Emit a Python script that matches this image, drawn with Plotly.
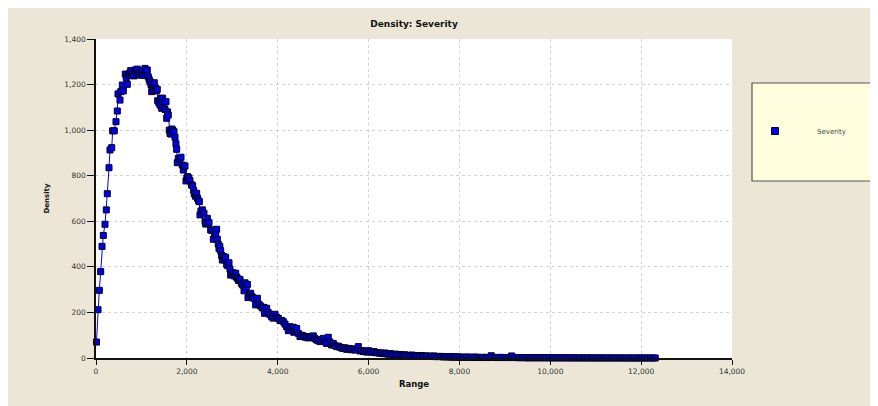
import plotly.graph_objects as go

# ── Data ──────────────────────────────────────────────────────────────────────

range_x = [
    10, 44, 73, 103, 132, 161, 198, 227, 249, 286,
    308, 346, 367, 403, 440, 469, 484, 528, 545, 579,
    601, 645, 667, 689, 711, 740, 764, 786, 808, 835,
    858, 885, 909, 931, 960, 990, 1010, 1028, 1055, 1079,
    1105, 1129, 1151, 1170, 1189, 1210, 1226, 1248, 1265, 1283,
    1310, 1330, 1349, 1358, 1385, 1409, 1430, 1446, 1468, 1495,
    1519, 1541, 1556, 1575, 1591, 1613, 1630, 1651, 1670, 1688,
    1717, 1739, 1760, 1776, 1789, 1812, 1840, 1871, 1900, 1922,
    1940, 1959, 1981, 2000, 2018, 2045, 2069, 2100, 2128, 2150,
    2164, 2190, 2216, 2234, 2260, 2274, 2289, 2310, 2340, 2377,
    2400, 2414, 2451, 2470, 2488, 2524, 2550, 2583, 2612, 2635,
    2656, 2671, 2690, 2707, 2725, 2744, 2765, 2781, 2810, 2830,
    2854, 2876, 2900, 2928, 2950, 2964, 2990, 3016, 3045, 3075,
    3095, 3112, 3140, 3170, 3199, 3230, 3258, 3281, 3305, 3332,
    3345, 3375, 3405, 3425, 3442, 3475, 3515, 3552, 3590, 3625,
    3660, 3699, 3710, 3757, 3790, 3830, 3867, 3900, 3940, 3977,
    4013, 4050, 4085, 4123, 4160, 4197, 4233, 4270, 4305, 4343,
    4355, 4390, 4417, 4453, 4490, 4525, 4563, 4600, 4637, 4675,
    4710, 4745, 4783, 4820, 4857, 4895, 4930, 4965, 5003, 5040,
    5077, 5113, 5150, 5187, 5223, 5260, 5297, 5335, 5370, 5405,
    5443, 5480, 5517, 5555, 5590, 5625, 5664, 5700, 5740, 5774,
    5810, 5845, 5884, 5920, 5960, 6000, 6040, 6080, 6120, 6160,
    6200, 6240, 6280, 6320, 6360, 6400, 6440, 6480, 6520, 6560,
    6600, 6640, 6680, 6720, 6760, 6800, 6840, 6880, 6920, 6960,
    7000, 7040, 7080, 7120, 7160, 7200, 7240, 7280, 7320, 7360,
    7400, 7440, 7480, 7520, 7560, 7600, 7640, 7680, 7720, 7760,
    7800, 7840, 7880, 7920, 7960, 8000, 8050, 8100, 8150, 8200,
    8250, 8300, 8350, 8400, 8450, 8500, 8550, 8600, 8650, 8700,
    8750, 8800, 8850, 8900, 8950, 9000, 9050, 9100, 9150, 9200,
    9260, 9320, 9380, 9440, 9500, 9560, 9620, 9680, 9740, 9800,
    9860, 9920, 9980, 10040, 10100, 10160, 10220, 10280, 10340, 10400,
    10460, 10520, 10580, 10640, 10700, 10760, 10820, 10880, 10940, 11000,
    11060, 11120, 11180, 11240, 11300, 11360, 11420, 11480, 11540, 11600,
    11660, 11720, 11780, 11840, 11900, 11960, 12020, 12080, 12140, 12200,
    12260, 12310,
]

density = [
    70, 212, 297, 379, 490, 538, 587, 650, 721, 835,
    913, 923, 997, 997, 1037, 1084, 1159, 1132, 1169, 1198,
    1172, 1246, 1230, 1201, 1242, 1250, 1261, 1240, 1249, 1238,
    1264, 1255, 1268, 1242, 1250, 1242, 1255, 1261, 1240, 1271,
    1250, 1264, 1234, 1222, 1213, 1200, 1169, 1190, 1178, 1208,
    1185, 1172, 1179, 1129, 1120, 1110, 1140, 1096, 1140, 1100,
    1091, 1125, 1052, 1080, 1066, 1000, 985, 983, 1005, 1000,
    993, 969, 940, 916, 857, 876, 870, 881, 847, 825,
    840, 843, 777, 790, 796, 790, 778, 760, 756, 735,
    720, 710, 723, 701, 690, 686, 628, 645, 650, 635,
    600, 588, 613, 590, 594, 562, 560, 521, 547, 540,
    565, 521, 500, 481, 490, 471, 450, 430, 445, 430,
    442, 411, 405, 418, 390, 364, 370, 374, 360, 372,
    355, 350, 340, 345, 328, 320, 295, 330, 310, 323,
    265, 280, 284, 270, 266, 262, 233, 262, 235, 228,
    220, 222, 196, 218, 200, 190, 181, 175, 192, 179,
    174, 164, 165, 159, 149, 137, 120, 137, 128, 135,
    113, 118, 130, 108, 94, 100, 97, 92, 91, 88,
    94, 90, 97, 85, 79, 76, 72, 80, 86, 72,
    64, 91, 70, 57, 64, 55, 50, 52, 47, 44,
    42, 45, 38, 42, 40, 36, 40, 35, 38, 50,
    31, 33, 28, 30, 26, 32, 27, 25, 28, 23,
    24, 21, 22, 19, 22, 18, 17, 19, 16, 15,
    17, 14, 13, 15, 12, 14, 11, 12, 10, 13,
    11, 9, 10, 8, 11, 9, 8, 9, 7, 8,
    7, 9, 6, 7, 6, 7, 5, 6, 5, 6,
    4, 5, 4, 5, 4, 4, 3, 4, 3, 4,
    3, 3, 4, 3, 2, 3, 2, 3, 2, 10,
    3, 2, 2, 3, 2, 2, 2, 2, 9, 2,
    2, 1, 2, 1, 1, 1, 1, 1, 1, 1,
    1, 1, 1, 0.5, 1, 0.5, 0.5, 1, 0.5, 0.5,
    0.5, 0.5, 0.5, 0.5, 0.5, 0.3, 0.5, 0.3, 0.3, 0.3,
    0.3, 0.3, 0.2, 0.3, 0.2, 0.2, 0.2, 0.2, 0.2, 0.1,
    0.1, 0.1, 0.1, 0.1, 0.1, 0.1, 0.1, 0.1, 0.1, 0.1,
    0.1, 0.1,
]

series_name = "Severity"
x_ticks = [0, 2000, 4000, 6000, 8000, 10000, 12000, 14000]
y_ticks = [0, 200, 400, 600, 800, 1000, 1200, 1400]

# ── Figure ─────────────────────────────────────────────────────────────────────
# the page body has an 8px margin, so the figure starts at (8, 8) in the window

W, H = 870, 398
L, R, T, B = 88, 146, 31, 48
PW, PH = W - L - R, H - T - B


def px_x(p):  # figure pixel -> paper x
    return (p - L) / PW


def px_y(p):  # figure pixel -> paper y
    return (H - B - p) / PH


BEIGE = "#EBE6D6"
FONT = "DejaVu Sans"

fig = go.Figure()
fig.add_trace(go.Scatter(
    x=range_x, y=density, mode="lines+markers", name=series_name,
    line=dict(color="#0000FF", width=1),
    marker=dict(symbol="square", size=6, color="#0000EE",
                line=dict(color="#000022", width=1)),
    cliponaxis=False, showlegend=False,
))
# legend entry only (marker, no line)
fig.add_trace(go.Scatter(
    x=[None], y=[None], mode="markers", name=series_name,
    marker=dict(symbol="square", size=7, color="#0000EE",
                line=dict(color="#000022", width=1)),
))

# legend box
legend_box = dict(type="rect", xref="paper", yref="paper",
                  x0=px_x(744), x1=px_x(864), y0=px_y(173), y1=px_y(75),
                  fillcolor="#FFFFDF", line=dict(color="#555555", width=1.2),
                  layer="below")

fig.update_layout(
    width=W, height=H,
    margin=dict(l=L, r=R, t=T, b=B),
    paper_bgcolor=BEIGE, plot_bgcolor="white",
    font=dict(family=FONT, size=7.5, color="#333333"),
    title=dict(text="<b>Density: Severity</b>", x=0.5, xref="paper", xanchor="center",
               y=1 - 16 / H, yanchor="middle", font=dict(size=9, color="#111111")),
    shapes=[legend_box],
    showlegend=True,
    legend=dict(x=px_x(725), y=px_y(123), xanchor="left", yanchor="middle",
                bgcolor="rgba(0,0,0,0)", borderwidth=0, itemwidth=74,
                font=dict(size=7, color="#444444")),
)

fig.update_xaxes(
    range=[0, 14000], tickvals=x_ticks, tickformat=",d",
    showline=True, linecolor="#111111", linewidth=1.5,
    ticks="outside", ticklen=5, tickcolor="#111111",
    showgrid=True, gridcolor="#D3D3D3", griddash="dot", zeroline=False,
    title=dict(text="<b>Range</b>", font=dict(size=8.5, color="#111111"), standoff=6),
)
fig.update_yaxes(
    range=[0, 1400], tickvals=y_ticks, tickformat=",d",
    showline=True, linecolor="#111111", linewidth=1.5,
    ticks="outside", ticklen=7, tickcolor="#111111",
    showgrid=True, gridcolor="#D3D3D3", griddash="dot", zeroline=False,
    title=dict(text="<b>Density</b>", font=dict(size=7, color="#111111"), standoff=14),
)

fig.write_html("out.html")
